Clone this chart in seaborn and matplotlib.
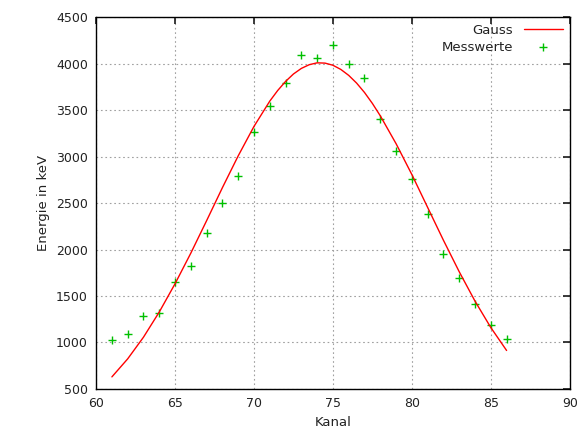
import matplotlib
matplotlib.use("Agg")
import matplotlib.pyplot as plt
import seaborn as sns
import pandas as pd

sns.set_theme(style="white")
plt.rcParams["font.family"] = ["DejaVu Sans"]

# Messwerte
kanal = [61, 62, 63, 64, 65, 66, 67, 68, 69, 70, 71, 72, 73,
         74, 75, 76, 77, 78, 79, 80, 81, 82, 83, 84, 85, 86]
energie = [1030, 1090, 1285, 1320, 1650, 1820, 2180, 2500, 2790, 3260, 3540, 3790, 4090,
           4060, 4200, 4000, 3850, 3410, 3060, 2760, 2380, 1950, 1690, 1410, 1190, 1040]

# Gauss-Kurve
gauss_x = [61, 62, 63, 64, 65, 66, 67, 68, 69, 70, 71, 71.5, 72, 72.5, 73, 73.5,
           74, 74.5, 75, 75.5, 76, 76.5, 77, 77.5, 78, 79, 80, 81, 82, 83, 84, 85, 86]
gauss_y = [630, 824, 1057, 1328, 1632, 1962, 2311, 2666, 3008, 3325, 3597, 3711, 3809,
           3889, 3949, 3989, 4009, 4006, 3983, 3938, 3874, 3791, 3690, 3572, 3439, 3139,
           2807, 2453, 2100, 1761, 1445, 1161, 914]

df_mess = pd.DataFrame({"Kanal": kanal, "Energie": energie})
df_gauss = pd.DataFrame({"Kanal": gauss_x, "Energie": gauss_y})

fig = plt.figure(figsize=(5.79, 4.41), dpi=100)
ax = fig.add_axes([0.166, 0.118, 0.818, 0.843])

sns.lineplot(data=df_gauss, x="Kanal", y="Energie", ax=ax, color="#ff0000",
             linewidth=1.0, label="Gauss")
sns.scatterplot(data=df_mess, x="Kanal", y="Energie", ax=ax, marker="+", s=32,
                color="#00c000", linewidth=1.0, label="Messwerte")

ax.set_xlim(60, 90)
ax.set_ylim(500, 4500)
ax.set_xticks(range(60, 91, 5))
ax.set_yticks(range(500, 4501, 500))
ax.grid(True, color="#a0a0a0", linestyle=(0, (1.5, 2.5)), linewidth=0.8)
ax.tick_params(direction="in", length=5, top=True, right=True, labelsize=9,
               colors="#222222", pad=6)
for s in ax.spines.values():
    s.set_color("#000000")
    s.set_linewidth(1.0)
ax.set_xlabel("Kanal", fontsize=9.5, color="#222222")
ax.set_ylabel("Energie in keV", fontsize=9.5, color="#222222")

leg = ax.legend(loc="upper right", frameon=False, markerfirst=False, fontsize=9.5,
                handlelength=3.0, borderaxespad=0.1, labelspacing=0.3)
for t in leg.get_texts():
    t.set_color("#222222")

fig.savefig("out.png", dpi=100)
